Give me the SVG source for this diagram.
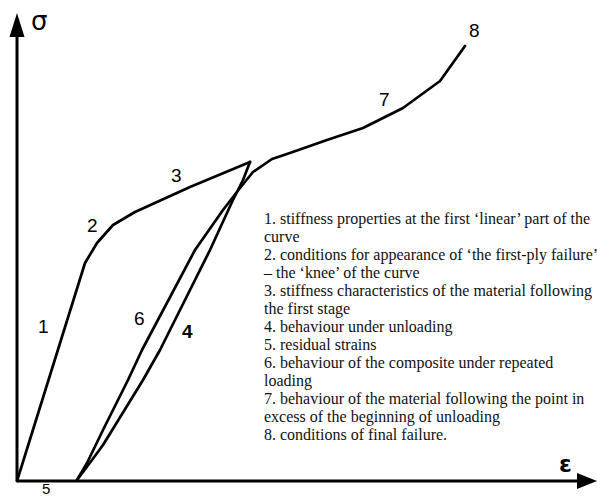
<svg xmlns="http://www.w3.org/2000/svg" width="597" height="497" viewBox="0 0 597 497">
<style>
.ln{fill:none;stroke:#000;stroke-width:2.7;stroke-linejoin:round;stroke-linecap:round}
.ax{fill:none;stroke:#000;stroke-width:3}
.num{font-family:"Liberation Sans",Arial,sans-serif;font-size:19px;fill:#000}
.sym{font-family:"DejaVu Sans","Liberation Sans",sans-serif;font-size:26px;fill:#000}
.lg{font-family:"Liberation Serif","Times New Roman",serif;font-size:16px;fill:#111}
</style>
<rect width="597" height="497" fill="#fff"/>
<g id="axes">
<line class="ax" x1="17" y1="481" x2="17" y2="32"/>
<polygon points="17,13 9.5,37 24.5,37" fill="#000"/>
<line class="ax" x1="17" y1="481" x2="582" y2="481"/>
<polygon points="597,481 577,473 577,489" fill="#000"/>
<text id="sigma" class="sym" x="31" y="30">σ</text>
<text id="eps" class="sym" x="559" y="472" style="font-size:23px;font-weight:bold">ε</text>
</g>
<g id="connectors">
<path id="curve-loading" class="ln" d="M17,481 L85,263 L97,243 L113,225 L135,212 L190,187 L250,162"/>
<path id="curve-unloading" class="ln" d="M250,162 L243,180 L232,202 L210,250 L160,350 L143,380 L103,445 L92,460 L77,480"/>
<path id="curve-reloading" class="ln" d="M77,480 L87,463 L103,430 L128,380 L142,350 L195,250 L223,210 L240,188 L253,172 L272,159 L287,154 L327,140 L363,128 L403,108 L440,81 L465,46"/>
</g>
<g id="labels">
<text class="num" x="38" y="333">1</text>
<text class="num" x="87" y="232">2</text>
<text class="num" x="171" y="182">3</text>
<text class="num" x="182" y="338" font-weight="bold">4</text>
<text class="num" x="42" y="493.5" style="font-size:15px">5</text>
<text class="num" x="134" y="325">6</text>
<text class="num" x="379" y="106">7</text>
<text class="num" x="469" y="37">8</text>
</g>
<g id="legend" class="lg">
<text x="264" y="224">1. stiffness properties at the first ‘linear’ part of the</text>
<text x="264" y="242">curve</text>
<text x="264" y="260">2. conditions for appearance of ‘the first-ply failure’</text>
<text x="264" y="278">– the ‘knee’ of the curve</text>
<text x="264" y="296">3. stiffness characteristics of the material following</text>
<text x="264" y="314">the first stage</text>
<text x="264" y="332">4. behaviour under unloading</text>
<text x="264" y="350">5. residual strains</text>
<text x="264" y="368">6. behaviour of the composite under repeated</text>
<text x="264" y="386">loading</text>
<text x="264" y="404">7. behaviour of the material following the point in</text>
<text x="264" y="422">excess of the beginning of unloading</text>
<text x="264" y="440">8. conditions of final failure.</text>
</g>
</svg>
